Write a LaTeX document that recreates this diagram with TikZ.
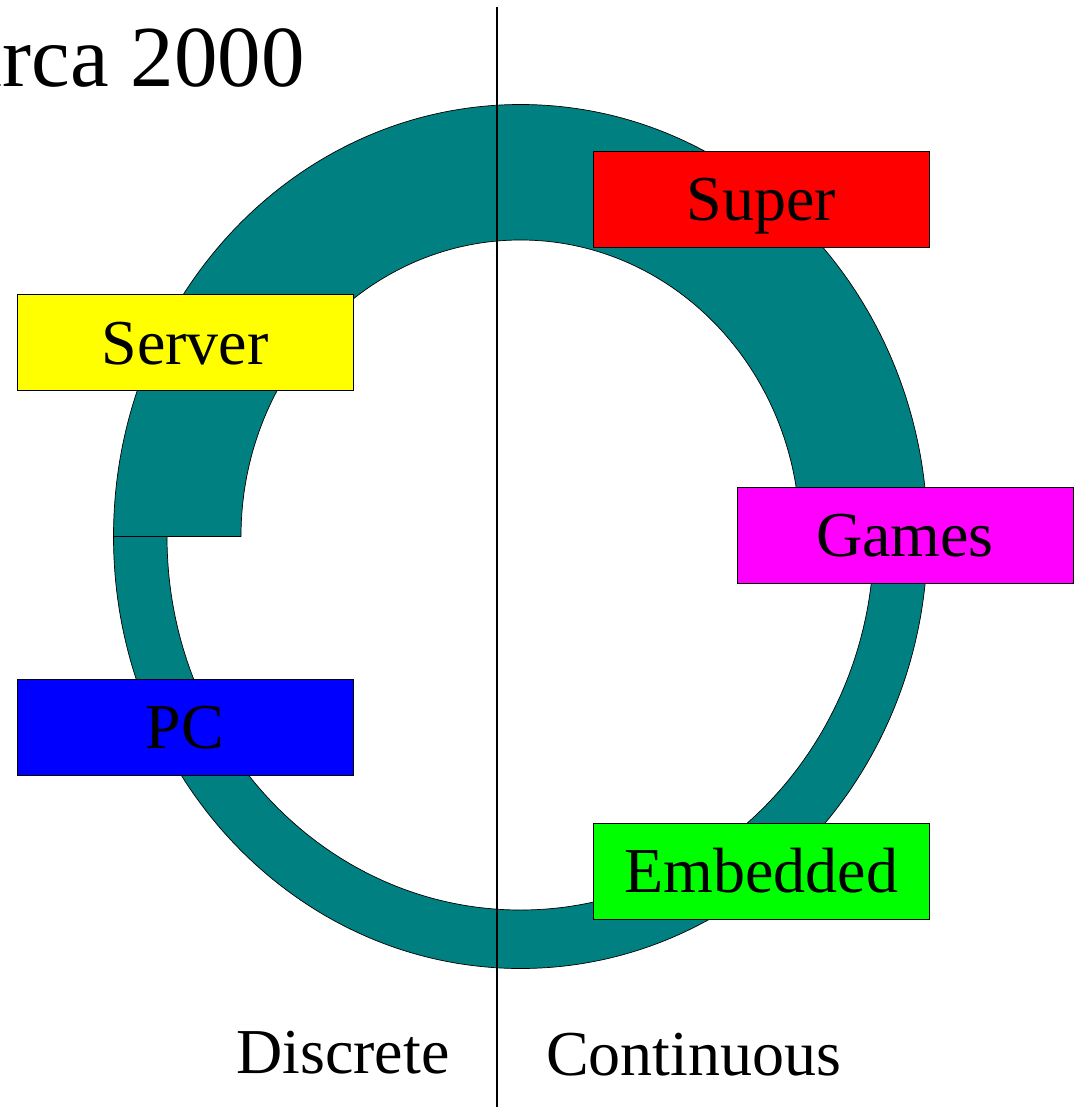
\documentclass[tikz,border=0pt]{standalone}
\usepackage{fontspec}
\setmainfont{Liberation Serif}
\definecolor{ringteal}{RGB}{0,128,128}
\definecolor{boxred}{RGB}{255,0,0}
\definecolor{boxyellow}{RGB}{255,255,0}
\definecolor{boxmagenta}{RGB}{255,0,255}
\definecolor{boxblue}{RGB}{0,0,255}
\definecolor{boxgreen}{RGB}{0,255,0}
\begin{document}
\begin{tikzpicture}[x=1pt,y=-1pt,
  ring/.style={fill=ringteal,draw=black,line width=0.7pt,line join=round},
  catbox/.style={draw=black,line width=0.8pt,minimum width=336pt,minimum height=96pt,
    inner sep=0pt,text height=43pt,text depth=0pt,
    font=\fontsize{64pt}{70pt}\selectfont},
  axislabel/.style={anchor=base west,inner sep=0pt,font=\fontsize{64pt}{70pt}\selectfont},
  divider/.style={draw=black,line width=1.2pt}]
\useasboundingbox[fill=white] (0,0) rectangle (1081,1107);
% thick arc (upper half)
\path[ring] (113.5,536.5) arc[start angle=180,end angle=0,x radius=407pt,y radius=432pt]
  -- (800,536.5) arc[start angle=0,end angle=180,x radius=279.5pt,y radius=296.5pt] -- cycle;
% thin arc (lower half)
\path[ring] (113.5,536.5) arc[start angle=180,end angle=360,x radius=407pt,y radius=432pt]
  -- (874,536.5) arc[start angle=0,end angle=-180,x radius=353.5pt,y radius=373.5pt] -- cycle;
% divider
\coordinate (divtop) at (497,7);
\coordinate (divbot) at (497,1107);
\draw[divider] (divtop) -- (divbot);
% boxes
\node[catbox,fill=boxred]     (super)    at (761.5,199)  {Super};
\node[catbox,fill=boxyellow]  (server)   at (185,342.5)  {Server};
\node[catbox,fill=boxmagenta] (games)    at (905,535)    {Games};
\node[catbox,fill=boxblue]    (pc)       at (185,727)    {PC};
\node[catbox,fill=boxgreen]   (embedded) at (761.5,871)  {Embedded};
% title and axis labels
\node[anchor=base east,inner sep=0pt,font=\fontsize{87pt}{95pt}\selectfont] (title) at (305,87) {circa 2000};
\node[axislabel] (discrete) at (236,1073) {Discrete};
\node[axislabel] (continuous) at (546,1075) {Continuous};
\end{tikzpicture}
\end{document}
